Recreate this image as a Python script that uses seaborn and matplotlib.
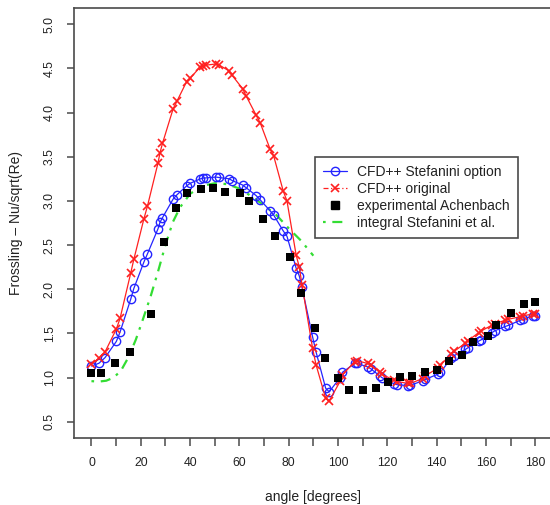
import numpy as np
import pandas as pd
import matplotlib
matplotlib.use("Agg")
import matplotlib.pyplot as plt
from matplotlib.lines import Line2D
import seaborn as sns

# ---------------- data ----------------
cfd_angle = [0, 3.0, 5.5, 10.1, 11.6, 15.9, 17.2, 21.3, 22.7, 27.0, 27.8, 28.8,
             33.1, 34.7, 38.6, 40.1, 44.2, 45.3, 46.3, 50.5, 51.7, 55.9, 57.1,
             61.3, 62.7, 66.8, 68.5, 72.4, 73.9, 77.8, 79.3, 83.0, 84.3, 85.4,
             89.7, 91.1, 95.0, 96.4, 100.9, 101.8, 106.7, 107.9, 112.1, 113.3,
             116.9, 117.8, 122.6, 124.0, 128.3, 129.3, 134.5, 135.4, 140.6,
             141.5, 146.0, 147.2, 151.7, 152.8, 157.1, 158.2, 162.5, 163.6,
             167.9, 169.0, 174.0, 175.1, 179.0, 180.0]
stefanini_opt = [1.131, 1.162, 1.226, 1.41, 1.516, 1.885, 2.01, 2.31, 2.40, 2.685,
                 2.757, 2.81, 3.02, 3.07, 3.17, 3.20, 3.25, 3.258, 3.26, 3.27, 3.265,
                 3.25, 3.23, 3.18, 3.15, 3.06, 3.01, 2.89, 2.84, 2.66, 2.60, 2.24,
                 2.15, 2.02, 1.46, 1.29, 0.88, 0.84, 1.0, 1.06, 1.16, 1.16, 1.12,
                 1.10, 1.02, 1.0, 0.93, 0.92, 0.91, 0.913, 0.965, 0.98, 1.04, 1.06,
                 1.22, 1.25, 1.32, 1.34, 1.414, 1.43, 1.51, 1.53, 1.58, 1.59, 1.65,
                 1.66, 1.70, 1.70]
cfd_original = [1.15, 1.22, 1.29, 1.55, 1.67, 2.18, 2.34, 2.80, 2.94, 3.43, 3.545,
                3.65, 4.04, 4.13, 4.35, 4.39, 4.52, 4.53, 4.536, 4.55, 4.54, 4.47,
                4.42, 4.27, 4.19, 3.97, 3.88, 3.59, 3.51, 3.11, 3.0, 2.39, 2.25,
                2.05, 1.33, 1.145, 0.765, 0.735, 0.96, 1.03, 1.18, 1.19, 1.16, 1.14,
                1.06, 1.04, 0.97, 0.955, 0.935, 0.935, 0.99, 1.02, 1.11, 1.14, 1.27,
                1.30, 1.39, 1.42, 1.51, 1.53, 1.595, 1.61, 1.65, 1.66, 1.69, 1.70,
                1.72, 1.72]

exp_angle = [0, 4.0, 9.4, 15.5, 24.3, 29.6, 34.3, 38.7, 44.5, 49.3, 54.0, 60.3,
             64.1, 69.4, 74.3, 80.6, 85.1, 90.5, 94.8, 99.9, 104.5, 110.3, 115.6,
             120.1, 125.2, 130.1, 135.2, 140.2, 145.1, 150.1, 154.7, 160.8, 164.2,
             170.1, 175.3, 180.1]
exp_achenbach = [1.05, 1.05, 1.17, 1.29, 1.72, 2.54, 2.915, 3.09, 3.13, 3.15, 3.10,
                 3.09, 3.0, 2.80, 2.60, 2.37, 1.96, 1.56, 1.22, 1.0, 0.86, 0.86,
                 0.88, 0.95, 1.01, 1.02, 1.06, 1.09, 1.19, 1.26, 1.405, 1.47, 1.595,
                 1.73, 1.83, 1.86]

int_angle = [0, 3, 6, 9, 12, 15, 18, 21, 24, 27, 30, 33, 36, 40, 45, 50, 55, 60,
             65, 70, 75, 80, 85, 90]
int_stefanini = [0.96, 0.955, 0.965, 1.0, 1.08, 1.23, 1.43, 1.67, 1.92, 2.2, 2.5,
                 2.76, 2.93, 3.08, 3.17, 3.20, 3.19, 3.14, 3.05, 2.95, 2.84, 2.69,
                 2.55, 2.38]

x_ticks = list(range(0, 181, 10))
x_tick_labels = [str(t) if t % 20 == 0 else "" for t in x_ticks]
y_ticks = [0.5, 1.0, 1.5, 2.0, 2.5, 3.0, 3.5, 4.0, 4.5, 5.0]
y_tick_labels = ["0.5", "1.0", "1.5", "2.0", "2.5", "3.0", "3.5", "4.0", "4.5", "5.0"]

labels = ["CFD++ Stefanini option", "CFD++ original",
          "experimental Achenbach", "integral Stefanini et al."]

# ---------------- style ----------------
sns.set_theme(style="ticks")
plt.rcParams["font.family"] = ["Liberation Sans", "DejaVu Sans"]
edge = "#4a4a4a"

fig = plt.figure(figsize=(5.5, 5.05), dpi=100)
fig.patch.set_facecolor("white")
ax = fig.add_axes([73.7 / 550, 1 - 437.7 / 505, (553 - 73.7) / 550, (437.7 - 8.3) / 505])
ax.set_facecolor("white")

blue = "#2424ff"
red = "#ff2020"
green = "#33dd33"

sns.lineplot(x=cfd_angle, y=stefanini_opt, ax=ax, color=blue, lw=0.9,
             marker="o", markersize=6.0, markerfacecolor="none",
             markeredgecolor=blue, markeredgewidth=1.0, estimator=None,
             sort=False, zorder=3)
sns.lineplot(x=cfd_angle, y=cfd_original, ax=ax, color=red, lw=0.9,
             marker="x", markersize=6.0, markeredgecolor=red,
             markeredgewidth=1.2, estimator=None, sort=False, zorder=4)
sns.scatterplot(x=exp_angle, y=exp_achenbach, ax=ax, color="black", marker="s",
                s=30, edgecolor="black", linewidth=0, zorder=5)
sns.lineplot(x=int_angle, y=int_stefanini, ax=ax, color=green, lw=1.6,
             estimator=None, sort=False, zorder=2)
ax.lines[-1].set_dashes([1.2, 3.0, 4.5, 3.0])

ax.set_xlim(-7.2, 187.2)
ax.set_ylim(0.32, 5.18)
ax.set_xticks(x_ticks)
ax.set_xticklabels(x_tick_labels)
ax.set_yticks(y_ticks)
ax.set_yticklabels(y_tick_labels, rotation=90, va="center")

for s in ax.spines.values():
    s.set_color(edge)
    s.set_linewidth(1.2)
ax.tick_params(axis="both", direction="out", color=edge, width=1.1,
               labelsize=8.8, labelcolor="#222222")
ax.tick_params(axis="x", length=6.0, pad=8)
ax.tick_params(axis="y", length=5.0, pad=8)

ax.set_xlabel("angle [degrees]", fontsize=10, color="#222222")
ax.set_ylabel("Frossling \u2013 Nu/sqrt(Re)", fontsize=10, color="#222222")
ax.xaxis.set_label_coords(0.5, (437.7 - 497) / 429.4)
ax.xaxis.label.set_va("center")
ax.yaxis.set_label_coords((15.8 - 73.7) / 479.3, 0.5)
ax.yaxis.label.set_va("center")

handles = [
    Line2D([], [], color=blue, lw=0.9, marker="o", markersize=6.0,
           markerfacecolor="none", markeredgewidth=1.0),
    Line2D([], [], color=red, lw=0.9, linestyle=(0, (4, 2, 1, 2)), marker="x",
           markersize=6.0, markeredgewidth=1.2),
    Line2D([], [], color="black", lw=0, marker="s", markersize=5.5),
    Line2D([], [], color=green, lw=1.6, dashes=[1.2, 3.0, 4.5, 3.0]),
]
leg = ax.legend(handles, labels, loc="upper left",
                bbox_to_anchor=(315 / 550, 1 - 157 / 505),
                bbox_transform=fig.transFigure, borderaxespad=0,
                fontsize=10, frameon=True, fancybox=False, shadow=False,
                framealpha=1, edgecolor=edge, handlelength=1.7,
                handletextpad=0.75, labelspacing=0.2, borderpad=0.6)
leg.get_frame().set_linewidth(1.2)
for t in leg.get_texts():
    t.set_color("#222222")

fig.savefig("out.png", dpi=100, facecolor="white")
